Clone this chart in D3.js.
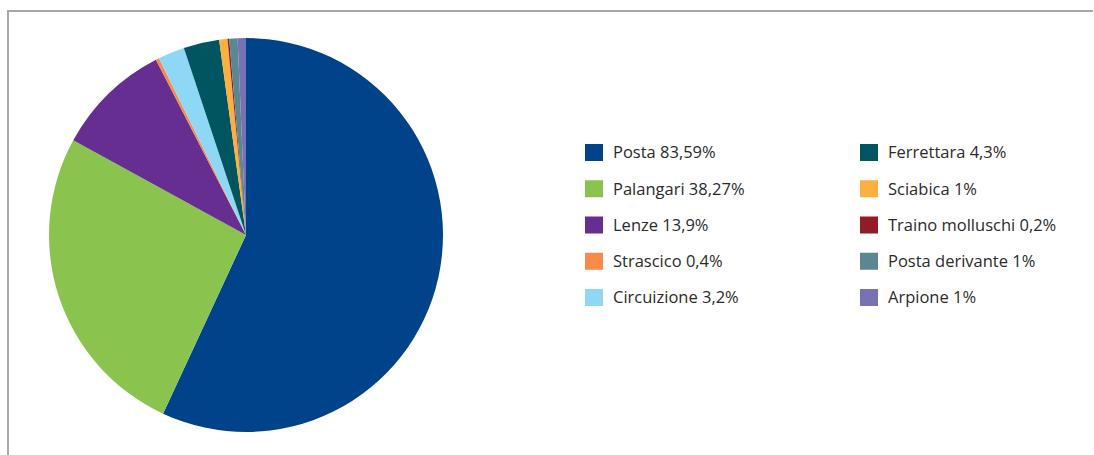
<!DOCTYPE html>
<html>
<head>
<meta charset="utf-8">
<script src="https://cdn.jsdelivr.net/npm/d3@7"></script>
<style>
  html, body { margin: 0; padding: 0; background: #fff; }
  svg { display: block; }
</style>
</head>
<body>
<svg id="chart" width="1094" height="455"></svg>
<script>
// Fishing gear shares
const categories = ["Posta", "Palangari", "Lenze", "Strascico", "Circuizione",
                    "Ferrettara", "Sciabica", "Traino molluschi", "Posta derivante", "Arpione"];
const values = [83.59, 38.27, 13.9, 0.4, 3.2, 4.3, 1, 0.2, 1, 1];
const valueLabels = ["83,59%", "38,27%", "13,9%", "0,4%", "3,2%", "4,3%", "1%", "0,2%", "1%", "1%"];
const colors = ["#00438a", "#8bc34f", "#672e91", "#f78b47", "#8fd8f5",
                "#005560", "#fbb040", "#931b26", "#5b8890", "#7672b4"];

const data = categories.map((c, i) => ({ name: c, value: values[i], label: valueLabels[i], color: colors[i] }));

const svg = d3.select("#chart");

// frame
svg.append("path")
  .attr("d", "M8,455 L8,11 L1093,11")
  .attr("fill", "none")
  .attr("stroke", "#a8a8a8")
  .attr("stroke-width", 2);

// pie
const cx = 246, cy = 235, r = 197;
const pie = d3.pie().value(d => d.value).sort(null);
const arc = d3.arc().innerRadius(0).outerRadius(r);

svg.append("g")
  .attr("transform", `translate(${cx},${cy})`)
  .selectAll("path")
  .data(pie(data))
  .join("path")
  .attr("d", arc)
  .attr("fill", d => d.data.color);

// legend: two columns of five
const colX = [585, 860];
const rowY = d3.scalePoint().domain(d3.range(5)).range([152.5, 297.5]);

const legend = svg.append("g")
  .selectAll("g")
  .data(data)
  .join("g")
  .attr("transform", (d, i) => `translate(${colX[Math.floor(i / 5)]},${rowY(i % 5)})`);

legend.append("rect")
  .attr("x", 0).attr("y", -8.5)
  .attr("width", 18).attr("height", 17)
  .attr("fill", d => d.color);

legend.append("text")
  .attr("x", 28).attr("y", 0)
  .attr("dy", "0.35em")
  .attr("font-family", "'Open Sans', sans-serif")
  .attr("font-size", 16.5)
  .attr("fill", "#2b2b2b")
  .text(d => `${d.name} ${d.label}`);
</script>
</body>
</html>
